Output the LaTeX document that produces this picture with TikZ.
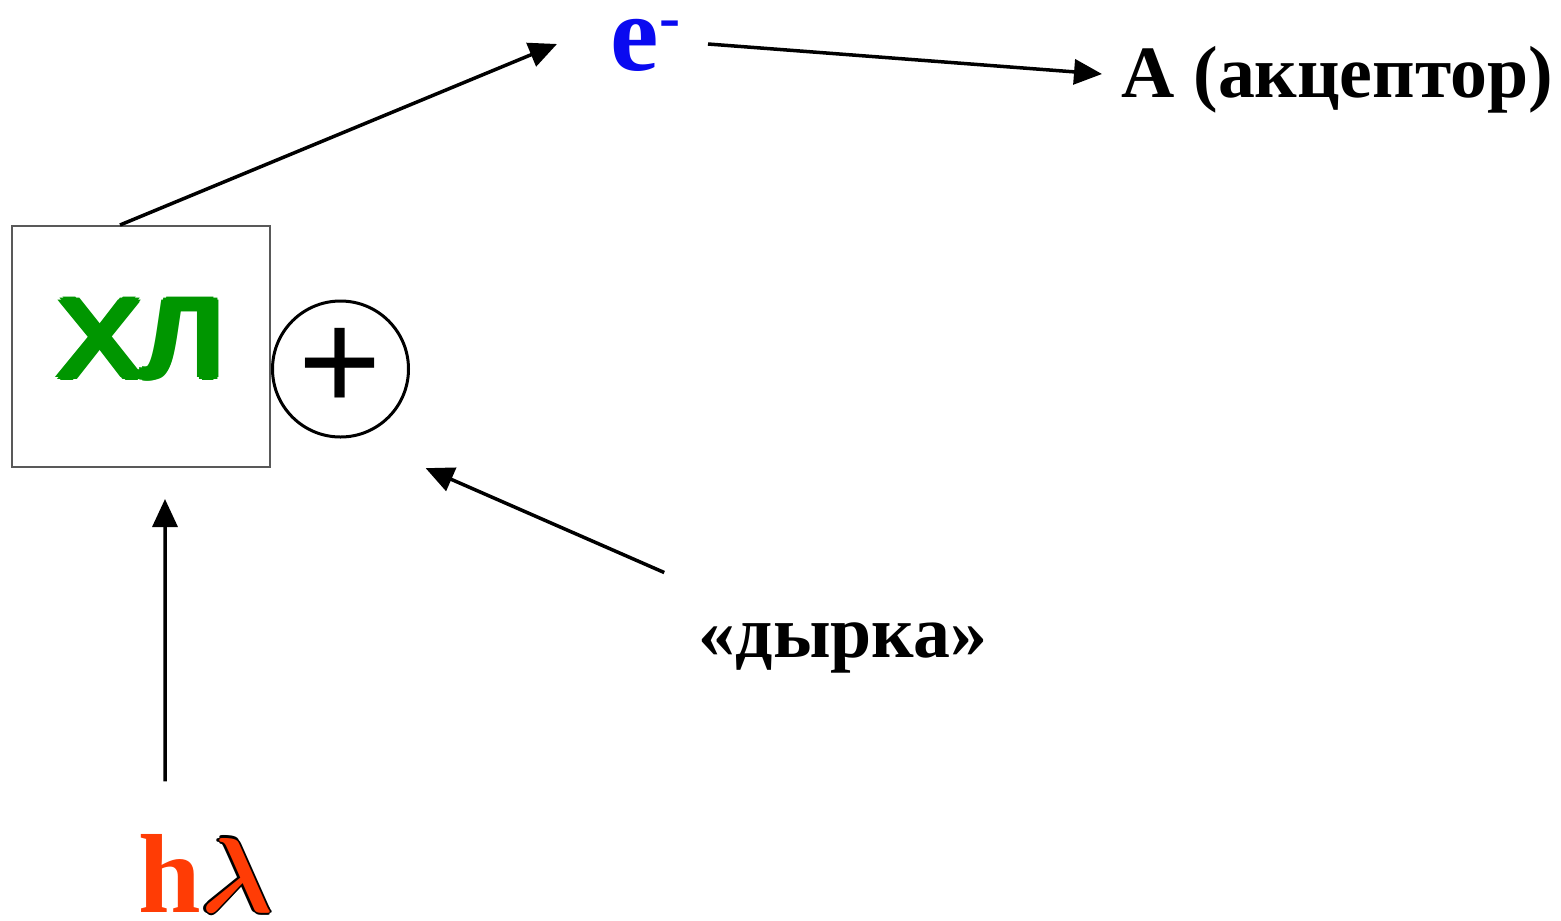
\documentclass[tikz,border=0pt]{standalone}
\usepackage{bm}
\usepackage{fontspec}
\setmainfont{Liberation Serif}
\newfontfamily\sansreg{Liberation Sans}
\usepackage{xcolor}
\usetikzlibrary{arrows.meta,positioning}
\definecolor{chlgreen}{RGB}{0,150,0}
\definecolor{eblue}{RGB}{10,10,240}
\definecolor{photon}{RGB}{255,60,5}
% copies of a text, shifted by (#2,#3), laid under it
\newcommand{\shifted}[3]{\rlap{\hspace{#2}\raisebox{#3}{#1}}}
% heavier strokes for the sans label
\newcommand{\fatten}[1]{\shifted{#1}{0.45mm}{0mm}\shifted{#1}{-0.45mm}{0mm}%
  \shifted{#1}{0mm}{0.3mm}\shifted{#1}{0mm}{-0.3mm}%
  \shifted{#1}{0.32mm}{0.21mm}\shifted{#1}{-0.32mm}{0.21mm}%
  \shifted{#1}{0.32mm}{-0.21mm}\shifted{#1}{-0.32mm}{-0.21mm}#1}
% black rim round a coloured glyph
\newcommand{\rimmed}[1]{{\color{black}\shifted{#1}{0.2mm}{0mm}\shifted{#1}{-0.2mm}{0mm}%
  \shifted{#1}{0mm}{0.2mm}\shifted{#1}{0mm}{-0.2mm}}#1}

\begin{document}
\begin{tikzpicture}[x=0.1mm, y=-0.1mm,
      txt/.style={inner sep=0pt, font=\fontsize{21}{24}\selectfont\bfseries},
      chlbox/.style={draw=black!65, line width=0.2mm, minimum width=25.8mm, minimum height=24.1mm,
        text=chlgreen, text depth=1.8mm, font=\sansreg\fontsize{32}{34}\selectfont},
      hole/.style={circle, draw, line width=0.3mm, minimum size=13.6mm, inner sep=0pt,
        font=\sansreg\fontsize{40.5}{42}\selectfont},
      ar/.style={-{Triangle[length=2.8mm, width=2.5mm]}, line width=0.35mm}]
    \useasboundingbox (0,0) rectangle (1561,920);
    \node[chlbox] (chl) at (141,346.5) {\scalebox{1.12}[1]{\fatten{ХЛ}}};
    \node[hole, right=0mm of chl, yshift=-2.25mm] (plus) {+};
    \node[txt, anchor=base west, text=eblue, font=\fontsize{31}{33}\selectfont\bfseries] (elec) at (610,71) {e\raisebox{3.3mm}{\fontsize{18}{18}\selectfont -}};
    \node[txt, anchor=base west] (acc) at (1121,97) {A (акцептор)};
    \node[txt, anchor=base] (hl) at (843,657) {«дырка»};
    \node[txt, anchor=base west, text=photon, font=\fontsize{32}{34}\selectfont\bfseries] (hv) at (138,912) {h\scalebox{1.22}{\rimmed{$\bm{\lambda}$}}};
    \draw[ar] ([xshift=-2.1mm]chl.north) -- ([xshift=-5.3mm, yshift=2.7mm]elec.base west);
    \draw[ar] ([xshift=9.8mm, yshift=2.7mm]elec.base west) -- ([xshift=-1.9mm, yshift=2.3mm]acc.base west);
    \draw[ar] ([xshift=-3.4mm, yshift=4.9mm]hl.north west) -- ([xshift=3.6mm, yshift=-5mm]plus.south east);
    \draw[ar] ([xshift=2.7mm, yshift=5.2mm]hv.north west) -- ([xshift=2.4mm, yshift=-3.1mm]chl.south);
  \end{tikzpicture}
\end{document}
